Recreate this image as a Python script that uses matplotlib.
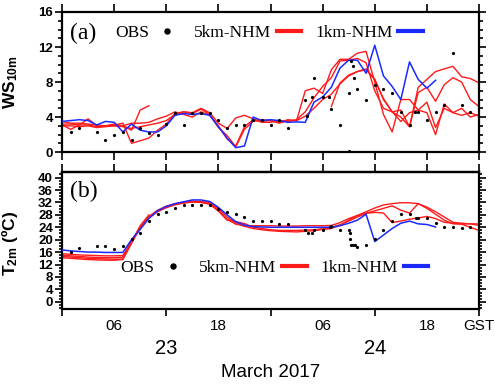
import matplotlib
matplotlib.use("Agg")
import matplotlib.pyplot as plt
import matplotlib.transforms as mtransforms
from matplotlib.lines import Line2D
from matplotlib.ticker import FixedFormatter, FixedLocator, MultipleLocator
import numpy as np

RED = "#ff1a1a"
BLUE = "#1a2aff"
SANS = "Liberation Sans"
SERIF = "Liberation Serif"

plt.rcParams["font.family"] = [SANS, "DejaVu Sans"]
plt.rcParams["mathtext.fontset"] = "custom"
plt.rcParams["mathtext.rm"] = "Liberation Sans"
plt.rcParams["mathtext.bf"] = "Liberation Sans:bold"

# ---- (a) 10 m wind speed (m/s), hours from 00 GST 23 March ----
WS_OBS_HOURS = [1, 2, 4, 5, 6, 7, 8, 9, 10, 11, 12, 13, 14, 15, 16, 17, 18, 19, 20, 21, 22, 23, 24, 25, 26,
                28, 28.2, 28.8, 29, 30, 30.7, 31, 32,
                33, 33, 33.3, 33.5, 33.6,
                34, 35, 36, 37, 38, 39, 40, 40.6, 41, 42, 43, 44, 45, 46, 47]
WS_OBS = [2.3, 2.8, 2.3, 1.4, 1.9, 2.3, 1.4, 2.8, 2.2, 1.9, 3.2, 4.5, 3.1, 4.5, 4.5, 4.5, 3.7, 2.8, 3.1, 3.1,
          3.7, 3.7, 3.1, 3.7, 2.8,
          5.9, 4.1, 6.3, 8.5, 6.3, 6.3, 4.9, 3.1,
          6.8, 0.1, 10.4, 9.8, 8.5,
          7.2, 5.9, 7.7, 7.2, 6.8, 4.6, 3.1, 4.6, 4.6, 3.7, 4.6, 5.4, 11.3, 5.4, 4.6]

WS_BLUE_START = 0
WS_BLUE = [3.5, 3.6, 3.7, 3.6, 3.1, 3.5, 3.4, 2.3, 3.2, 2.5, 2.3, 2.3, 3.0,
           4.2, 4.4, 4.3, 4.4, 4.2, 2.9, 1.6, 0.5, 0.7,
           4.0, 3.6, 3.7, 3.6, 3.4, 3.45, 3.4,
           5.7, 6.3, 7.4, 9.6, 10.5, 10.5, 9.0, 12.2, 8.7, 7.5, 6.0, 10.3, 8.3, 7.3, 8.2]

WS_RED_STARTS = [0, 0, 0, 0, 31]
WS_RED_1 = [3.1, 2.6, 3.1, 3.8, 3.0, 3.0, 3.2, 3.0, 2.5, 4.8, 5.3]
WS_RED_2 = [3.5, 3.3, 3.3, 3.2, 3.1, 3.0, 3.0, 2.9, 2.7, 2.9, 3.1, 3.3, 3.6,
            4.3, 4.6, 4.5, 5.0, 4.5, 3.3, 2.7, 3.9, 4.2,
            3.8, 3.5, 3.6, 3.4, 3.7, 3.6, 4.1,
            5.0, 6.0, 6.6, 7.8, 8.7, 9.2, 9.5, 8.3,
            6.0, 4.6, 4.0, 2.9, 6.8, 7.4, 5.8, 7.7, 8.5, 8.0, 6.0, 5.2]
WS_RED_3 = [3.2, 3.2, 3.1, 3.1, 2.9, 3.0, 3.1, 3.3, 1.0, 1.3, 1.6, 2.5, 3.2,
            4.4, 4.6, 4.4, 4.9, 4.3, 2.8, 1.9, 0.6, 2.6,
            3.5, 3.7, 3.6, 3.3, 3.6, 3.6, 7.0,
            7.3, 6.7, 9.4, 10.6, 10.6, 11.3, 11.5, 8.0,
            4.3, 2.3, 6.0, 6.0, 4.8, 4.5, 2.0, 5.5, 4.5, 4.2, 4.5, 4.1]
WS_RED_4 = [3.0, 3.0, 2.9, 3.0, 2.8, 2.9, 3.0, 3.0, 3.3, 3.3, 3.4, 3.8, 4.1,
            4.6, 4.3, 4.0, 4.6, 4.2, 3.0, 1.5, 0.7, 2.9,
            3.7, 3.4, 3.4, 3.6, 3.5, 3.7, 4.6,
            6.2, 7.5, 8.5, 10.4, 10.5, 10.7, 10.2, 7.0,
            5.0, 4.6, 3.5, 4.5, 4.8, 5.7, 2.8, 5.0, 4.5, 5.0, 4.0, 4.3]
WS_RED_5 = [5.2, 7.9, 8.8, 9.2, 9.4, 8.3, 6.1, 4.6, 4.8, 2.9, 7.4, 8.3, 9.2, 9.5, 9.8, 8.6, 8.4, 7.9]

# ---- (b) 2 m temperature (deg C) ----
T_OBS_HOURS = [1, 2, 4, 5, 6, 7, 8, 9, 10, 11, 12, 13, 14, 15, 16, 17, 18, 19, 20, 21, 22, 23, 24, 25, 26,
               28, 28.3, 28.8, 29, 30, 30.8, 31, 32,
               33, 33.1, 33.2, 33.3, 33.5, 33.7,
               34, 35, 36, 37, 38, 39, 40, 40.8, 41, 42, 43, 44, 45, 46, 47]
T_OBS = [16.1, 17.2, 17.9, 18.1, 17.1, 17.9, 20.1, 22.0, 26.1, 28.2, 28.9, 30.2, 31.1, 31.1, 31.1, 31.1,
         30.0, 29.0, 28.2, 27.3, 26.1, 26.1, 26.1, 25.1, 25.1,
         23.1, 22.0, 22.0, 23.1, 23.1, 24.2, 24.5, 23.1,
         23.1, 22.0, 20.1, 18.2, 18.2, 18.2,
         17.5, 18.2, 20.1, 23.1, 26.1, 28.2, 28.2, 27.1, 27.1, 27.1, 25.4, 24.2, 24.2, 23.7, 24.2]

T_BLUE_START = 0
T_BLUE = [16.7, 16.4, 16.2, 16.0, 16.0, 15.9, 15.9, 15.9,
          20.0, 23.3, 26.9, 29.3, 30.7, 31.6, 32.2, 32.8,
          32.8, 32.3, 30.4, 28.0, 25.8, 24.7, 24.2,
          24.1, 24.0, 24.0, 24.0, 24.0, 24.0, 24.0, 24.0, 24.0,
          24.5, 25.3, 26.3, 28.2, 19.4, 21.5, 23.6, 25.3, 26.0, 25.1, 24.9, 24.1]

T_RED_STARTS = [0, 0, 0, 0]
T_RED_1 = [15.5, 15.3, 15.1, 15.0, 14.9, 14.8, 14.8, 14.9, 19.0, 24.5, 28.0]
T_RED_2 = [15.0, 14.8, 14.6, 14.4, 14.3, 14.2, 14.2, 14.4,
           19.8, 24.0, 27.5, 29.5, 30.8, 31.6, 32.1, 32.4,
           32.3, 32.0, 30.0, 27.3, 25.4, 24.3, 23.6,
           23.2, 22.9, 22.7, 22.6, 22.5, 22.7, 22.9, 23.3, 23.6,
           24.6, 26.3, 27.8, 29.0, 30.2, 31.2, 31.6, 31.9, 31.9, 31.6, 30.5, 29.0, 27.3, 25.6, 25.3, 25.1, 24.6]
T_RED_3 = [14.6, 14.4, 14.2, 14.0, 13.9, 13.8, 13.7, 13.8,
           19.2, 24.3, 27.0, 29.1, 30.5, 31.4, 31.9, 32.2,
           32.1, 31.6, 29.4, 26.6, 25.0, 24.5, 24.5,
           24.5, 24.5, 24.4, 24.4, 24.4, 24.5, 24.5, 24.5, 24.6,
           25.5, 26.8, 27.8, 28.5, 29.3, 30.1, 30.9, 29.5, 28.6, 31.6, 30.1, 28.2, 26.3, 25.1, 25.1, 25.1, 25.1]
T_RED_4 = [14.2, 14.0, 13.8, 13.6, 13.5, 13.4, 13.4, 13.6,
           18.8, 23.8, 27.0, 29.0, 30.3, 31.2, 31.8, 32.1,
           32.0, 31.4, 29.2, 26.3, 25.8, 25.2, 24.0,
           23.6, 23.2, 23.0, 23.0, 23.0, 23.1, 23.2, 23.5, 24.0,
           24.8, 26.0, 27.3, 28.5, 28.8, 28.6, 25.5, 26.0, 26.6, 27.0, 27.5, 26.8, 25.6, 25.3, 25.0, 24.0, 23.0]

DAY_LABELS = ["23", "24"]
DAY_CENTERS = [12, 36]
HOUR_TICK_POS = [6, 18, 30, 42]
HOUR_TICK_LABELS = ["06", "18", "06", "18"]


def hours_from(start, values):
    return np.arange(start, start + len(values))


def legend_handles():
    return [
        Line2D([], [], color="black", marker="o", markersize=3.6, linestyle="none", label="OBS"),
        Line2D([], [], color=RED, linewidth=3.0, label="5km-NHM"),
        Line2D([], [], color=BLUE, linewidth=3.0, label="1km-NHM"),
    ]


def draw_panel(ax, obs_h, obs, blue_start, blue, red_starts, reds):
    for start, vals in zip(red_starts, reds):
        ax.plot(hours_from(start, vals), vals, color=RED, linewidth=1.0, zorder=2)
    ax.plot(hours_from(blue_start, blue), blue, color=BLUE, linewidth=1.1, zorder=3)
    ax.plot(obs_h, obs, "o", color="black", markersize=2.3, markeredgewidth=0, zorder=4)
    ax.set_xlim(0, 48)
    for spine in ax.spines.values():
        spine.set_linewidth(1.6)


def style_y(ax, major, minor_len):
    ax.yaxis.set_major_locator(MultipleLocator(major))
    ax.yaxis.set_minor_locator(MultipleLocator(1))
    ax.tick_params(axis="y", which="both", direction="out", left=True, right=True, width=1.2)
    ax.tick_params(axis="y", which="major", length=5, labelsize=9.5, pad=1.5)
    ax.tick_params(axis="y", which="minor", length=minor_len)
    for lab in ax.get_yticklabels():
        lab.set_fontweight("bold")


fig = plt.figure(figsize=(4.95, 3.87), dpi=100)
ax_a = fig.add_axes([0.1253, 0.607, 0.8424, 0.362])
ax_b = fig.add_axes([0.1253, 0.2016, 0.8424, 0.354])

# panel (a)
draw_panel(ax_a, WS_OBS_HOURS, WS_OBS, WS_BLUE_START, WS_BLUE, WS_RED_STARTS,
           [WS_RED_1, WS_RED_2, WS_RED_3, WS_RED_4, WS_RED_5])
ax_a.set_ylim(0, 16)
style_y(ax_a, 4, 3)
ax_a.set_xticks(range(0, 49, 6))
ax_a.tick_params(axis="x", which="major", direction="out", top=True, bottom=True,
                 labelbottom=False, length=6, width=1.2)
ax_a.set_ylabel(r"$\mathbf{WS_{10m}}$", fontsize=12.5)
ax_a.yaxis.set_label_coords(-0.1, 0.5)
ax_a.text(0.02, 0.85, "(a)", transform=ax_a.transAxes, family=SERIF, fontsize=17, va="center")
ax_a.legend(handles=legend_handles(), loc="center left", bbox_to_anchor=(0.09, 0.85), ncol=3,
            frameon=False, markerfirst=False, handlelength=1.4, handletextpad=0.35,
            columnspacing=0.8, prop={"family": SERIF, "size": 12.5})

# panel (b)
draw_panel(ax_b, T_OBS_HOURS, T_OBS, T_BLUE_START, T_BLUE, T_RED_STARTS,
           [T_RED_1, T_RED_2, T_RED_3, T_RED_4])
ax_b.set_ylim(-2.3, 41.8)
style_y(ax_b, 4, 2.5)
ax_b.xaxis.set_major_locator(FixedLocator([0, 12, 24, 36, 48]))
ax_b.xaxis.set_major_formatter(FixedFormatter(["", "", "", "", "GST"]))
ax_b.xaxis.set_minor_locator(FixedLocator(HOUR_TICK_POS))
ax_b.xaxis.set_minor_formatter(FixedFormatter(HOUR_TICK_LABELS))
ax_b.tick_params(axis="x", which="major", direction="out", length=5, width=1.2, labelsize=11, pad=2)
ax_b.tick_params(axis="x", which="minor", length=0, labelsize=11, pad=7)
top_b = ax_b.secondary_xaxis("top")
top_b.set_xticks(range(0, 49, 6))
top_b.tick_params(direction="out", length=6, width=1.2, labeltop=False)
top_b.spines["top"].set_linewidth(1.6)
ax_b.set_ylabel(r"$\mathbf{T_{2m}}$ (ºC)", fontsize=12.5, fontweight="bold")
ax_b.yaxis.set_label_coords(-0.1, 0.48)
ax_b.text(0.02, 0.86, "(b)", transform=ax_b.transAxes, family=SERIF, fontsize=17, va="center")
ax_b.legend(handles=legend_handles(), loc="center left", bbox_to_anchor=(0.103, 0.3), ncol=3,
            frameon=False, markerfirst=False, handlelength=1.4, handletextpad=0.35,
            columnspacing=0.8, prop={"family": SERIF, "size": 12.5})

trans = mtransforms.blended_transform_factory(ax_b.transData, ax_b.transAxes)
for pos, lab in zip(DAY_CENTERS, DAY_LABELS):
    ax_b.text(pos, -0.29, lab, transform=trans, ha="center", va="center", fontsize=14.5)
ax_b.text(24, -0.465, "March 2017", transform=trans, ha="center", va="center", fontsize=13.5)

fig.savefig("out.png", dpi=100)
